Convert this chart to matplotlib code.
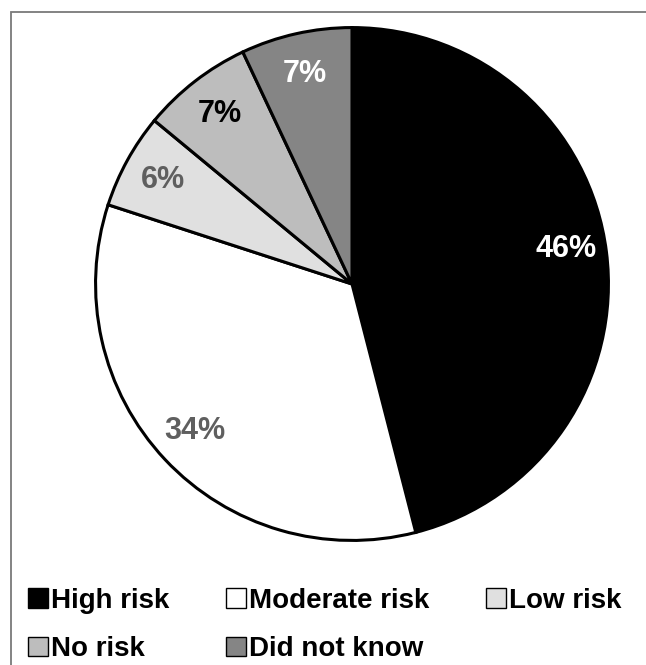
import matplotlib
matplotlib.use('Agg')
import matplotlib.pyplot as plt
from matplotlib.patches import Patch, Rectangle

plt.rcParams['font.family'] = ['Liberation Sans', 'DejaVu Sans']
plt.rcParams['font.weight'] = 'bold'

# risk perception shares (%)
labels = ['High risk', 'Moderate risk', 'Low risk', 'No risk', 'Did not know']
shares = [46, 34, 6, 7, 7]
colors = ['#000000', '#ffffff', '#e0e0e0', '#bdbdbd', '#858585']
pct_colors = ['#ffffff', '#5f5f5f', '#5f5f5f', '#000000', '#ffffff']

fig = plt.figure(figsize=(6.46, 6.65), dpi=100)
ax = fig.add_axes([93 / 646, 122 / 665, 518 / 646, 518 / 665])

wedges, texts, autotexts = ax.pie(
    shares, colors=colors, startangle=90, counterclock=False,
    autopct='%d%%', pctdistance=0.84, radius=1.0,
    wedgeprops=dict(edgecolor='black', linewidth=2.2),
    textprops=dict(fontsize=22, fontweight='bold'))
for t, c in zip(autotexts, pct_colors):
    t.set_color(c)
# nudge the big label up a little
x, y = autotexts[0].get_position()
autotexts[0].set_position((x, y + 0.03))
ax.set_xlim(-1.01, 1.01)
ax.set_ylim(-1.01, 1.01)
ax.axis('off')

# legend filled row by row: High, Moderate, Low / No risk, Did not know
handles = [Patch(facecolor=c, edgecolor='black', linewidth=1) for c in colors]
order = [0, 3, 1, 4, 2]
fig.legend([handles[i] for i in order], [labels[i] for i in order],
           ncol=3, loc='upper left', bbox_to_anchor=(28 / 646, 1 - 588 / 665),
           frameon=False, fontsize=20, handlelength=0.72, handleheight=0.72,
           handletextpad=0.1, columnspacing=2.05, labelspacing=0.8,
           borderaxespad=0, borderpad=0)

# outer frame
fig.add_artist(Rectangle((11 / 646, -0.1), 1.2, 1 - 12 / 665 + 0.1,
                         transform=fig.transFigure, fill=False,
                         edgecolor='#7a7a7a', linewidth=1.3))

fig.savefig('out.png', dpi=100)
